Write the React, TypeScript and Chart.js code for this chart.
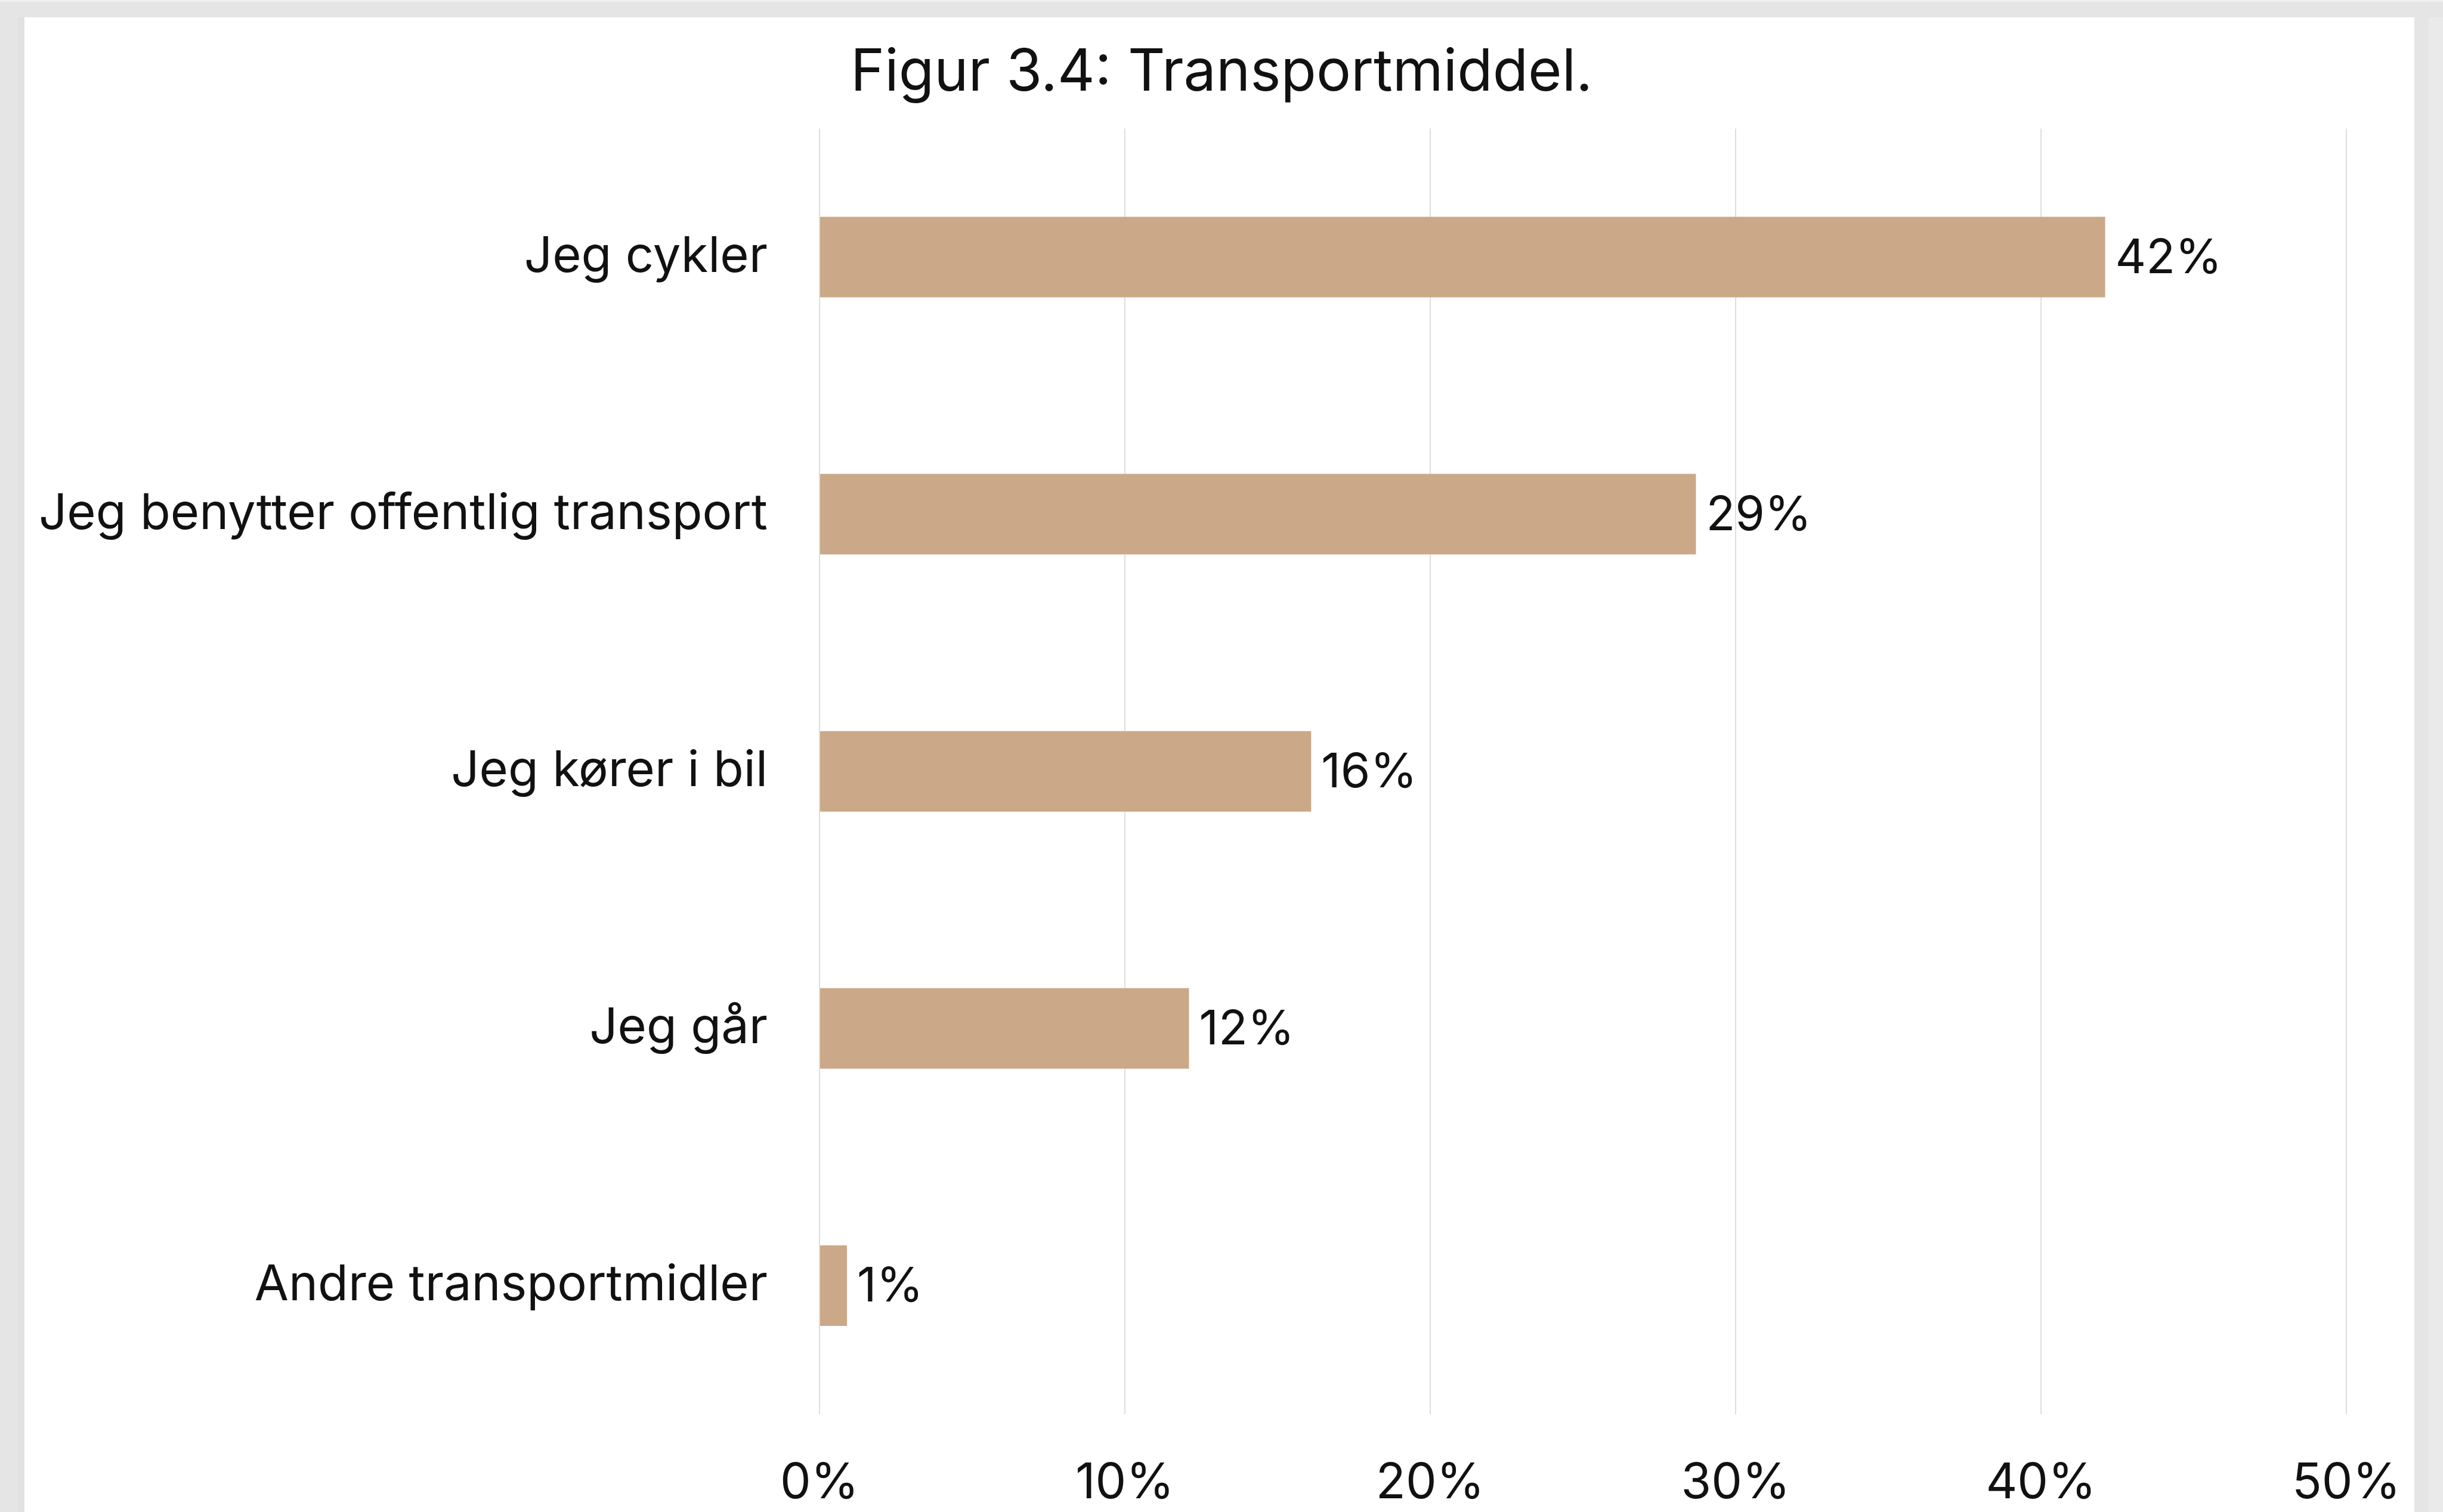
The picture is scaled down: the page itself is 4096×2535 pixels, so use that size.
import React, { useEffect, useRef } from "react";
import { Chart, registerables } from "chart.js";
Chart.register(...registerables);

const categories = [
  "Jeg cykler",
  "Jeg benytter offentlig transport",
  "Jeg kører i bil",
  "Jeg går",
  "Andre transportmidler",
];
const values = [42.1, 28.7, 16.1, 12.1, 0.9];
const xTickValues = [0, 10, 20, 30, 40, 50];
const chartTitle = "Figur 3.4: Transportmiddel.";

const W = 4096;
const H = 2535;
const FONT = "Inter";
const TEXT = "#111111";
const BAR = "#CBA888";

export default function App() {
  const ref = useRef<HTMLCanvasElement>(null);

  useEffect(() => {
    document.body.style.margin = "0";
    const valueLabels = {
      id: "valueLabels",
      afterDatasetsDraw(chart: any) {
        const ctx = chart.ctx;
        const meta = chart.getDatasetMeta(0);
        ctx.save();
        ctx.font = `400 80px ${FONT}`;
        ctx.fillStyle = TEXT;
        ctx.textAlign = "left";
        ctx.textBaseline = "middle";
        meta.data.forEach((bar: any, i: number) => {
          ctx.fillText(Math.round(values[i]) + "%", bar.x + 17, bar.y + 3);
        });
        ctx.restore();
      },
    };
    const chart = new Chart(ref.current as HTMLCanvasElement, {
      type: "bar",
      data: {
        labels: categories,
        datasets: [
          {
            data: values,
            backgroundColor: BAR,
            barPercentage: 0.313,
            categoryPercentage: 1,
            yAxisID: "y",
          },
        ],
      },
      options: {
        indexAxis: "y",
        responsive: false,
        animation: false,
        devicePixelRatio: 1,
        layout: { padding: { left: 0, right: 0, top: 0, bottom: 0 } },
        plugins: {
          legend: { display: false },
          tooltip: { enabled: false },
          title: {
            display: true,
            text: chartTitle,
            color: TEXT,
            font: { family: FONT, size: 97, weight: "400" as any },
            padding: { top: 65, bottom: 34 },
          },
        },
        scales: {
          x: {
            type: "linear",
            min: xTickValues[0],
            max: xTickValues[xTickValues.length - 1],
            afterBuildTicks: (s: any) => {
              s.ticks = xTickValues.map((v) => ({ value: v }));
            },
            ticks: {
              callback: (v: any) => v + "%",
              color: TEXT,
              font: { family: FONT, size: 82 },
              padding: 67,
              maxRotation: 0,
            },
            grid: { color: "#dedede", lineWidth: 2, drawTicks: false },
            border: { display: false },
            afterFit: (s: any) => {
              s.height = 164;
            },
          },
          y: {
            type: "category",
            position: "left",
            ticks: {
              color: TEXT,
              font: { family: FONT, size: 83 },
              padding: 87,
            },
            grid: { display: false, drawTicks: false },
            border: { display: false },
            afterFit: (s: any) => {
              s.width = 1374;
            },
          },
          yRight: {
            type: "category",
            position: "right",
            ticks: { display: false },
            grid: { display: false, drawTicks: false },
            border: { display: false },
            afterFit: (s: any) => {
              s.width = 162;
            },
          },
        },
      },
      plugins: [valueLabels],
    } as any);
    return () => chart.destroy();
  }, []);

  return (
    <div style={{ position: "relative", width: W, height: H, background: "#e5e5e5", overflow: "hidden" }}>
      <div style={{ position: "absolute", left: 0, top: 0, width: W, height: 3, background: "#efefef" }} />
      <div style={{ position: "absolute", left: 30, top: 29, width: 11, height: H - 29, background: "#e1e1e1" }} />
      <div style={{ position: "absolute", left: 4072, top: 29, width: 24, height: H - 29, background: "#eaeaea" }} />
      <div style={{ position: "absolute", left: 41, top: 29, width: 4007, height: H - 29, background: "#ffffff" }} />
      <canvas
        ref={ref}
        width={W}
        height={H}
        style={{ position: "absolute", left: 0, top: 0, width: W, height: H, display: "block" }}
      />
    </div>
  );
}
